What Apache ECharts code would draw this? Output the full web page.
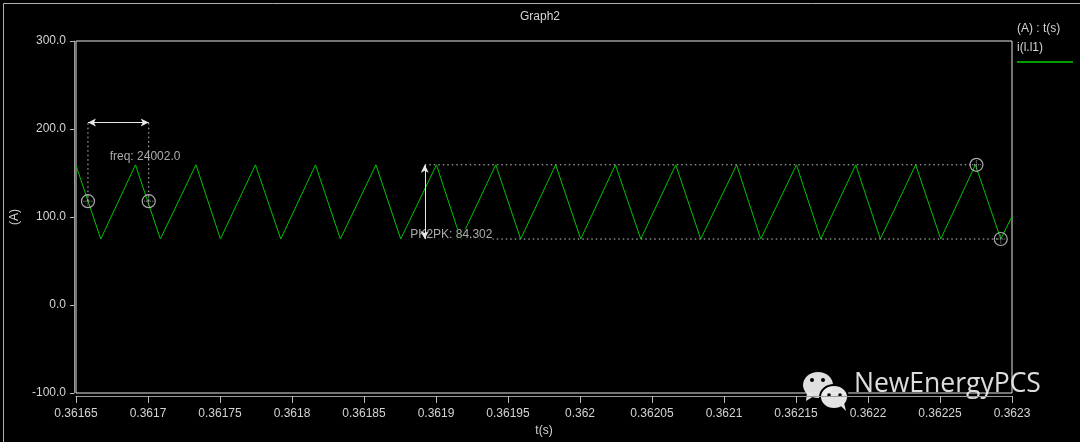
<!DOCTYPE html>
<html>
<head>
<meta charset="utf-8">
<script src="https://cdn.jsdelivr.net/npm/echarts@6/dist/echarts.min.js"></script>
<style>
html,body{margin:0;padding:0;background:#000;}
#main{width:1080px;height:442px;}
</style>
</head>
<body>
<div id="main"></div>
<script>
// ---- data ----
const timeS = [0.36165, 0.3616672, 0.3616913, 0.3617086, 0.3617333, 0.3617503, 0.3617746, 0.3617922,
  0.3618163, 0.3618336, 0.3618583, 0.3618755, 0.3619003, 0.3619172, 0.3619415, 0.3619588, 0.3619831,
  0.3620005, 0.3620246, 0.3620422, 0.3620665, 0.3620838, 0.3621088, 0.3621255, 0.3621503, 0.3621672,
  0.3621915, 0.3622086, 0.3622331, 0.3622505, 0.3622746, 0.3622922, 0.3623];
const currentA = [158.6, 75.0, 159.3, 75.0, 159.3, 75.1, 159.3, 75.0, 159.2, 75.0, 159.3, 75.0, 159.3,
  75.0, 159.3, 75.0, 159.3, 75.0, 159.3, 75.0, 159.3, 75.0, 159.3, 75.0, 159.3, 75.0, 159.3, 75.0,
  159.3, 75.0, 159.3, 75.0, 100.7];

const freqCursorT = [0.3616583, 0.3617005];
const freqCursorA = [118, 118];
const freqArrowA = 207.3;
const freqText = 'freq: 24002.0';
const freqTextPos = [0.3616734, 168.5];

const pkCursorT = 0.3618922;
const pkMarkT = [0.3622753, 0.3622922];
const pkMarkA = [159.3, 75.0];
const pkText = 'PK2PK: 84.302';
const pkTextPos = [0.3618822, 79.5];

const xMin = 0.36165, xMax = 0.3623, xStep = 0.00005;
const yMin = -100, yMax = 300, yStep = 100;

const seriesName = 'i(l.l1)';
const legendHeader = '(A) : t(s)';

// ---- chart ----
const chart = echarts.init(document.getElementById('main'));
const txt = '#d4d4d4';
const font = 'Liberation Sans';
const wave = timeS.map((t, i) => [t, currentA[i]]);
const dotted = {color: '#c8c8c8', width: 1, type: [1.5, 3]};

const option = {
  animation: false,
  backgroundColor: '#000',
  textStyle: {fontFamily: font},
  title: {
    text: 'Graph2', left: 'center', top: 6,
    textStyle: {color: txt, fontSize: 12, fontWeight: 'normal', fontFamily: font}
  },
  grid: {
    left: 76, right: 68, top: 41, bottom: 49,
    containLabel: false, outerBoundsMode: 'none',
    show: true, borderColor: '#e6e6e6', borderWidth: 1, backgroundColor: '#000'
  },
  xAxis: {
    type: 'value', min: xMin, max: xMax, interval: xStep, offset: 3,
    name: 't(s)', nameLocation: 'middle', nameGap: 28,
    nameTextStyle: {color: txt, fontSize: 12, fontFamily: font},
    axisLine: {show: true, onZero: false, lineStyle: {color: '#9a9a9a', width: 1}},
    axisTick: {show: true, length: 7, lineStyle: {color: '#bdbdbd'}},
    axisLabel: {color: txt, fontSize: 12, fontFamily: font, margin: 12,
      formatter: v => String(+v.toFixed(6))},
    splitLine: {show: false}
  },
  yAxis: {
    type: 'value', min: yMin, max: yMax, interval: yStep, offset: 2,
    name: '(A)', nameLocation: 'middle', nameGap: 52, nameRotate: 90,
    nameTextStyle: {color: txt, fontSize: 12, fontFamily: font},
    axisLine: {show: true, onZero: false, lineStyle: {color: '#9a9a9a', width: 1}},
    axisTick: {show: true, length: 4, lineStyle: {color: '#bdbdbd'}},
    axisLabel: {color: txt, fontSize: 12, fontFamily: font, margin: 8,
      formatter: v => v.toFixed(1)},
    splitLine: {show: false}
  },
  series: [
    {
      name: seriesName, type: 'line', data: wave, showSymbol: false, z: 2,
      lineStyle: {color: '#00c400', width: 1}
    },
    // dotted cursor lines
    {
      type: 'line', z: 3, showSymbol: false, silent: true, lineStyle: dotted,
      data: [[pkCursorT, pkMarkA[0]], [pkMarkT[0], pkMarkA[0]]]
    },
    {
      type: 'line', z: 3, showSymbol: false, silent: true, lineStyle: dotted,
      data: [[pkCursorT, pkMarkA[1]], [pkMarkT[1], pkMarkA[1]]]
    },
    {
      type: 'line', z: 3, showSymbol: false, silent: true, lineStyle: dotted,
      data: [[freqCursorT[0], freqCursorA[0]], [freqCursorT[0], freqArrowA]]
    },
    {
      type: 'line', z: 3, showSymbol: false, silent: true, lineStyle: dotted,
      data: [[freqCursorT[1], freqCursorA[1]], [freqCursorT[1], freqArrowA]]
    },
    // text annotations
    {
      type: 'scatter', z: 4, silent: true, symbolSize: 0,
      data: [freqTextPos],
      label: {show: true, position: 'right', distance: 0, formatter: freqText,
        color: txt, fontSize: 12, fontFamily: font}
    },
    {
      type: 'scatter', z: 4, silent: true, symbolSize: 0,
      data: [pkTextPos],
      label: {show: true, position: 'right', distance: 0, formatter: pkText,
        color: txt, fontSize: 12, fontFamily: font, backgroundColor: '#000', padding: [0, 0]}
    },
    // arrows
    {
      type: 'line', z: 5, data: [], silent: true,
      markLine: {
        silent: true, symbol: ['arrow', 'arrow'], symbolSize: [6, 8], label: {show: false},
        lineStyle: {color: '#e8e8e8', width: 1, type: 'solid'},
        data: [
          [{coord: [freqCursorT[0], freqArrowA]}, {coord: [freqCursorT[1], freqArrowA]}],
          [{coord: [pkCursorT, pkMarkA[1]]}, {coord: [pkCursorT, pkMarkA[0]]}]
        ]
      }
    },
    // cursor circles
    {
      type: 'scatter', z: 6, silent: true, symbol: 'circle', symbolSize: 13,
      itemStyle: {color: 'rgba(0,0,0,0)', borderColor: '#d4d4d4', borderWidth: 1.2},
      data: [[freqCursorT[0], freqCursorA[0]], [freqCursorT[1], freqCursorA[1]],
             [pkMarkT[0], pkMarkA[0]], [pkMarkT[1], pkMarkA[1]]]
    },
    {
      type: 'scatter', z: 6, silent: true,
      symbol: 'path://M0,5L10,5M5,0L5,10', symbolSize: 9,
      itemStyle: {color: 'rgba(0,0,0,0)', borderColor: '#c8c8c8', borderWidth: 1, borderType: [1, 1]},
      data: [[freqCursorT[0], freqCursorA[0]], [freqCursorT[1], freqCursorA[1]],
             [pkMarkT[0], pkMarkA[0]], [pkMarkT[1], pkMarkA[1]]]
    }
  ],
  graphic: [
    {type: 'rect', left: 1, top: 1, z: 100, silent: true,
      shape: {width: 1077, height: 439}, style: {fill: 'none', stroke: '#b0b0b0', lineWidth: 1}},
    {type: 'text', left: 1017, top: 23, style: {text: legendHeader, fill: txt, font: '12px "Liberation Sans"'}},
    {type: 'text', left: 1017, top: 42, style: {text: seriesName, fill: txt, font: '12px "Liberation Sans"'}},
    {type: 'line', shape: {x1: 1017, y1: 62, x2: 1073, y2: 62}, style: {stroke: '#00d400', lineWidth: 1.5}},
    // watermark
    {type: 'group', z: 50, silent: true, children: [
      {type: 'ellipse', shape: {cx: 818, cy: 385, rx: 15, ry: 13}, style: {fill: 'rgba(235,235,235,0.95)'}},
      {type: 'polygon', shape: {points: [[807, 393], [806, 401], [814, 396]]}, style: {fill: 'rgba(235,235,235,0.95)'}},
      {type: 'circle', shape: {cx: 812, cy: 380, r: 2}, style: {fill: '#000'}},
      {type: 'circle', shape: {cx: 823, cy: 380, r: 2}, style: {fill: '#000'}},
      {type: 'ellipse', shape: {cx: 834, cy: 397, rx: 14, ry: 12}, style: {fill: 'rgba(235,235,235,0.97)', stroke: '#000', lineWidth: 2}},
      {type: 'polygon', shape: {points: [[841, 406], [846, 411], [844, 403]]}, style: {fill: 'rgba(235,235,235,0.97)'}},
      {type: 'circle', shape: {cx: 829, cy: 395, r: 1.8}, style: {fill: '#000'}},
      {type: 'circle', shape: {cx: 840, cy: 395, r: 1.8}, style: {fill: '#000'}},
      {type: 'text', left: 854, top: 371, style: {text: 'NewEnergyPCS', fill: 'rgba(240,240,240,0.92)', font: '26.5px "Open Sans"'}}
    ]}
  ]
};
chart.setOption(option);
</script>
</body>
</html>
